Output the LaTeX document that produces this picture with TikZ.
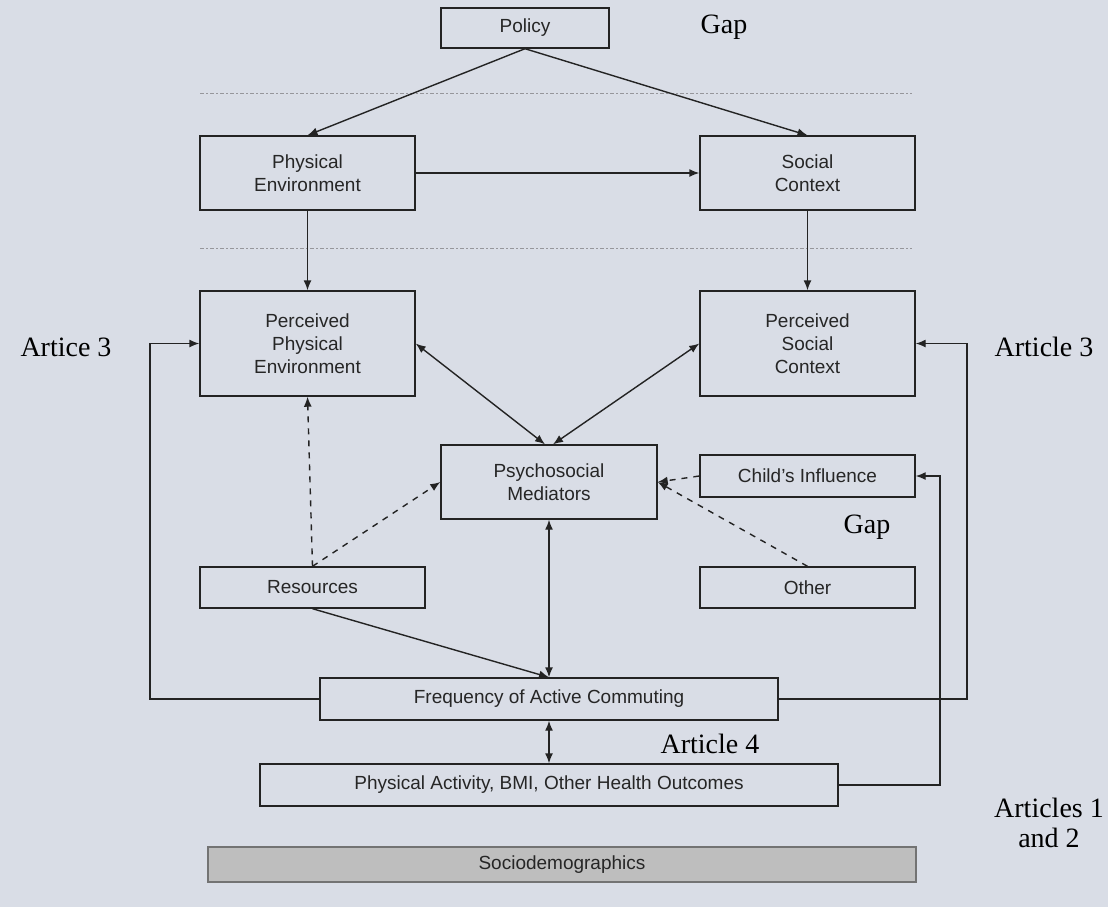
\documentclass[tikz,border=0pt]{standalone}
\usepackage{fontspec}
\setmainfont{Liberation Serif}
\setsansfont{Liberation Sans}
\usepackage{xcolor}
\usepackage{tikz}
\usetikzlibrary{arrows.meta,positioning,calc}
\definecolor{slidebg}{RGB}{217,221,230}
\definecolor{boxline}{RGB}{35,35,35}
\definecolor{sociogrey}{RGB}{190,190,190}
\definecolor{dashgrey}{RGB}{150,150,155}

\tikzset{
  box/.style={draw=boxline, line width=0.7pt, align=center, inner sep=2pt,
    font=\sffamily\fontsize{9.5}{11.5}\selectfont, text=black!85},
  arr/.style={draw=boxline, line width=0.7pt, -{Latex[length=5pt,width=4pt]}},
  biarr/.style={draw=boxline, line width=0.7pt, {Latex[length=5pt,width=4pt]}-{Latex[length=5pt,width=4pt]}},
  dasharr/.style={arr, dashed},
  divider/.style={draw=dashgrey, line width=0.5pt, dash pattern=on 2pt off 1.2pt on 0.6pt off 1.2pt},
  note/.style={font=\fontsize{14}{15}\selectfont, align=center}
}

\begin{document}
\begin{tikzpicture}[x=0.5pt,y=-0.5pt]
			\fill[slidebg] (0,0) rectangle (1108,907);
			\useasboundingbox (0,0) rectangle (1108,907);
			
			\draw[divider] (200,93) -- (912,93);
			\draw[divider] (200,248) -- (912,248);
			
			\node[box, minimum width=84pt, minimum height=20pt] (policy) at (525,28) {Policy};
			\node[note] (gaptop) at (724,27) {Gap};
			
			\node[box, minimum width=107.5pt, minimum height=37pt] (physenv) at (307.5,173) {Physical\\Environment};
			\node[box, minimum width=107.5pt, minimum height=37pt] (social) at (807.5,173) {Social\\Context};
			
			\node[box, minimum width=107.5pt, minimum height=52.5pt] (percphys) at (307.5,343.5) {Perceived\\Physical\\Environment};
			\node[box, minimum width=107.5pt, minimum height=52.5pt] (percsoc) at (807.5,343.5) {Perceived\\Social\\Context};
			\node[note] (art3left) at (66,347) {Artice 3};
			\node[note] (art3right) at (1044,347) {Article 3};
			
			\node[box, minimum width=108pt, minimum height=37pt] (psycho) at (549,482) {Psychosocial\\Mediators};
			\node[box, minimum width=107.5pt, minimum height=21pt] (child) at (807.5,476) {Child's Influence};
			\node[note] (gapmid) at (867,527) {Gap};
			
			\node[box, minimum width=112.5pt, minimum height=20.5pt] (resources) at (312.5,587.5) {Resources};
			\node[box, minimum width=107.5pt, minimum height=20.5pt] (other) at (807.5,587.5) {Other};
			
			\node[box, minimum width=229pt, minimum height=21pt] (freq) at (549,699) {Frequency of Active Commuting};
			\node[note] (art4) at (710,744) {Article 4};
			\node[box, minimum width=289pt, minimum height=21pt] (health) at (549,785) {Physical Activity, BMI, Other Health Outcomes};
			
			\node[note] (art12) at (1049,823) {Articles 1\\and 2};
			\node[box, fill=sociogrey, draw=black!55, minimum width=354pt, minimum height=17.5pt] (socio) at (562,864.5) {Sociodemographics};
			
			\coordinate (lbus) at (150,699);
			\coordinate (rbus) at (967,699);
			\coordinate (cbus) at (940,785);
			
			\draw[arr] (policy.south) -- (physenv.north);
			\draw[arr] (policy.south) -- (social.north);
			\draw[arr] (physenv) -- (social);
			\draw[arr] (physenv) -- (percphys);
			\draw[arr] (social) -- (percsoc);
			\draw[biarr] (percphys.east) -- ([xshift=-2pt]psycho.north);
			\draw[biarr] (percsoc.west) -- ([xshift=2pt]psycho.north);
			\draw[biarr] (psycho) -- (freq);
			\draw[dasharr] (resources.north) -- (percphys.south);
			\draw[dasharr] (resources.north) -- (psycho.west);
			\draw[dasharr] (child.west) -- (psycho.east);
			\draw[dasharr] (other.north) -- (psycho.east);
			\draw[arr] (resources.south) -- (freq.north);
			\draw[arr] (freq.west) -- (lbus) |- (percphys.west);
			\draw[arr] (freq.east) -- (rbus) |- (percsoc.east);
			\draw[arr] (health.east) -- (cbus) |- (child.east);
			\draw[biarr] (freq) -- (health);
			
		\end{tikzpicture}
\end{document}
